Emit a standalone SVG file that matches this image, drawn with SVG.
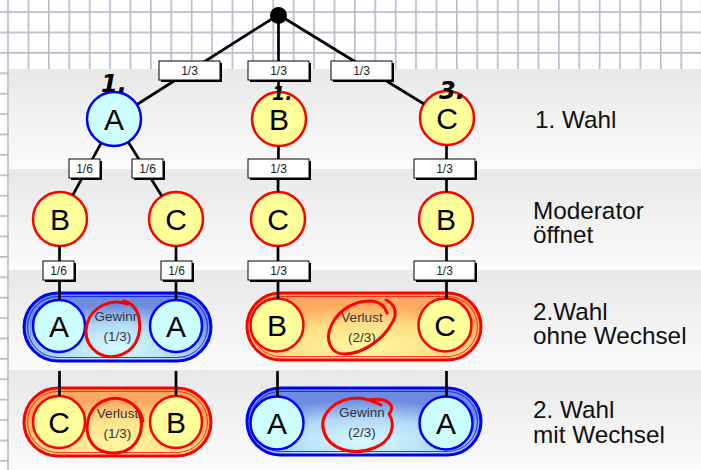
<svg xmlns="http://www.w3.org/2000/svg" width="701" height="470" viewBox="0 0 701 470">
  <defs>
    <pattern id="grid" patternUnits="userSpaceOnUse" x="7.2" y="11.2" width="20.4" height="20.4">
      <path d="M0.8 0 V20.4 M0 0.8 H20.4" stroke="#b9b9c8" stroke-width="1.7" fill="none"/>
    </pattern>
    <linearGradient id="band" x1="0" y1="0" x2="0" y2="1">
      <stop offset="0" stop-color="#e8e8e8"/>
      <stop offset="1" stop-color="#fbfbfb"/>
    </linearGradient>
    <radialGradient id="gBlue" cx="0.5" cy="0.8" r="0.62">
      <stop offset="0" stop-color="#d6faff"/>
      <stop offset="0.55" stop-color="#b2daf6"/>
      <stop offset="1" stop-color="#6c8ce0"/>
    </radialGradient>
    <radialGradient id="gOrange" cx="0.5" cy="0.8" r="0.62">
      <stop offset="0" stop-color="#fff8a0"/>
      <stop offset="0.55" stop-color="#ffe088"/>
      <stop offset="1" stop-color="#ffa862"/>
    </radialGradient>
  </defs>
  <style>
    .lbl { font-family: "Liberation Sans", Arial, sans-serif; font-size: 24.3px; fill: #111; }
    .node-letter { font-family: "Liberation Sans", Arial, sans-serif; font-size: 30px; fill: #000; text-anchor: middle; }
    .cyan { fill: #ccffff; stroke: #0000ff; stroke-width: 2.5; }
    .yellow { fill: #ffff99; stroke: #ff0000; stroke-width: 2.5; }
    .pill-blue { fill: url(#gBlue); stroke: #0000ff; stroke-width: 3; }
    .pill-orange { fill: url(#gOrange); stroke: #ff0000; stroke-width: 3; }
    .inner-blue { fill: none; stroke: #0000ff; stroke-width: 1; opacity: 0.75; }
    .inner-red { fill: none; stroke: #ff0000; stroke-width: 1; opacity: 0.75; }
    .result { font-family: "Liberation Sans", Arial, sans-serif; font-size: 13.5px; fill: #333; text-anchor: middle; }
    .edge { stroke: #000; stroke-width: 2.7; fill: none; }
    .box { fill: #fff; stroke: #000; stroke-width: 1; }
    .box-shadow { fill: #000; }
    .prob { font-family: "Liberation Sans", Arial, sans-serif; font-size: 12px; fill: #222; text-anchor: middle; }
    .loop { fill: none; stroke: #ff0000; stroke-width: 3; stroke-linecap: round; stroke-linejoin: round; }
    .hand { font-family: "DejaVu Sans", sans-serif; font-weight: bold; font-style: italic; fill: #000; }
  </style>

  <!-- squared paper -->
  <rect x="0" y="0" width="701" height="470" fill="#ffffff"/>
  <rect x="0" y="0" width="701" height="470" fill="url(#grid)"/>

  <!-- row bands -->
  <rect x="9" y="69" width="692" height="100" fill="url(#band)"/>
  <rect x="9" y="169" width="692" height="101" fill="url(#band)"/>
  <rect x="9" y="270" width="692" height="100" fill="url(#band)"/>
  <rect x="9" y="370" width="692" height="100" fill="url(#band)"/>

  <!-- row captions -->
  <text class="lbl" x="535" y="128">1. Wahl</text>
  <text class="lbl" x="533" y="219">Moderator</text>
  <text class="lbl" x="533" y="243">öffnet</text>
  <text class="lbl" x="533" y="320">2.Wahl</text>
  <text class="lbl" x="533" y="344">ohne Wechsel</text>
  <text class="lbl" x="533" y="418">2. Wahl</text>
  <text class="lbl" x="533" y="443">mit Wechsel</text>

  <!-- start point -->
  <g id="root">
    <circle cx="278.5" cy="15.5" r="8.5" fill="#000"/>
  </g>

  <!-- first choice -->
  <g id="choice-A">
    <circle class="cyan" cx="114" cy="119" r="27"/>
    <text class="node-letter" x="114" y="130">A</text>
  </g>
  <g id="choice-B">
    <circle class="yellow" cx="279" cy="119" r="27"/>
    <text class="node-letter" x="279" y="130">B</text>
  </g>
  <g id="choice-C">
    <circle class="yellow" cx="447" cy="118" r="27"/>
    <text class="node-letter" x="447" y="129">C</text>
  </g>

  <!-- door opened by the moderator -->
  <g id="open-B-after-A">
    <circle class="yellow" cx="60" cy="219" r="27"/>
    <text class="node-letter" x="60" y="230">B</text>
  </g>
  <g id="open-C-after-A">
    <circle class="yellow" cx="176" cy="219" r="27"/>
    <text class="node-letter" x="176" y="230">C</text>
  </g>
  <g id="open-C-after-B">
    <circle class="yellow" cx="278" cy="219" r="27"/>
    <text class="node-letter" x="278" y="230">C</text>
  </g>
  <g id="open-B-after-C">
    <circle class="yellow" cx="446" cy="219" r="27"/>
    <text class="node-letter" x="446" y="230">B</text>
  </g>

  <!-- second choice, staying -->
  <g id="stay-win">
    <rect class="pill-blue" x="24" y="293" width="187" height="68" rx="34"/>
    <rect class="inner-blue" x="27.5" y="296.5" width="180" height="61" rx="30.5"/>
    <text class="result" x="117.5" y="321">Gewinn</text>
    <text class="result" x="117.5" y="341">(1/3)</text>
    <circle class="cyan" cx="59" cy="326" r="26"/>
    <text class="node-letter" x="59" y="337">A</text>
    <circle class="cyan" cx="176" cy="326" r="26"/>
    <text class="node-letter" x="176" y="337">A</text>
  </g>
  <g id="stay-lose">
    <rect class="pill-orange" x="247" y="293" width="234" height="67" rx="33.5"/>
    <rect class="inner-red" x="250.5" y="296.5" width="227" height="60" rx="30"/>
    <text class="result" x="362" y="322">Verlust</text>
    <text class="result" x="362" y="342">(2/3)</text>
    <circle class="yellow" cx="277" cy="325" r="26.5"/>
    <text class="node-letter" x="277" y="336">B</text>
    <circle class="yellow" cx="445" cy="325" r="26.5"/>
    <text class="node-letter" x="445" y="336">C</text>
  </g>

  <!-- second choice, switching -->
  <g id="switch-lose">
    <rect class="pill-orange" x="24" y="388" width="187" height="68" rx="34"/>
    <rect class="inner-red" x="27.5" y="391.5" width="180" height="61" rx="30.5"/>
    <text class="result" x="117.5" y="418">Verlust</text>
    <text class="result" x="117.5" y="438">(1/3)</text>
    <circle class="yellow" cx="59" cy="422" r="26"/>
    <text class="node-letter" x="59" y="433">C</text>
    <circle class="yellow" cx="176" cy="422" r="26"/>
    <text class="node-letter" x="176" y="433">B</text>
  </g>
  <g id="switch-win">
    <rect class="pill-blue" x="247" y="388" width="234" height="67" rx="33.5"/>
    <rect class="inner-blue" x="250.5" y="391.5" width="227" height="60" rx="30"/>
    <text class="result" x="362" y="417">Gewinn</text>
    <text class="result" x="362" y="437">(2/3)</text>
    <circle class="cyan" cx="277" cy="423" r="26.5"/>
    <text class="node-letter" x="277" y="434">A</text>
    <circle class="cyan" cx="446" cy="423" r="26.5"/>
    <text class="node-letter" x="446" y="434">A</text>
  </g>

  <!-- branches with their probabilities -->
  <g id="connectors">
    <line class="edge" x1="278" y1="15" x2="137" y2="104.5"/>
    <line class="edge" x1="278.5" y1="15" x2="278.5" y2="92"/>
    <line class="edge" x1="279" y1="15" x2="424" y2="104"/>

    <line class="edge" x1="101.2" y1="142.8" x2="72.8" y2="195.2"/>
    <line class="edge" x1="128.2" y1="142" x2="161.8" y2="196"/>
    <line class="edge" x1="278.5" y1="146" x2="278" y2="192"/>
    <line class="edge" x1="446.5" y1="145" x2="446.5" y2="192"/>

    <line class="edge" x1="59.5" y1="246" x2="59.5" y2="300"/>
    <line class="edge" x1="176" y1="246" x2="176" y2="300"/>
    <line class="edge" x1="278" y1="246" x2="278" y2="299"/>
    <line class="edge" x1="446.5" y1="246" x2="446.5" y2="299"/>

    <line class="edge" x1="59.5" y1="371" x2="59.5" y2="396"/>
    <line class="edge" x1="176" y1="371" x2="176" y2="396" stroke-width="3.4"/>
    <line class="edge" x1="277.5" y1="371" x2="277.5" y2="396.5"/>
    <line class="edge" x1="446.5" y1="371" x2="446.5" y2="396.5"/>

    <!-- probability tags -->
    <rect class="box-shadow" x="161" y="63" width="61" height="19"/>
    <rect class="box" x="159" y="61" width="61" height="19"/>
    <text class="prob" x="189.5" y="75">1/3</text>
    <rect class="box-shadow" x="250" y="63" width="61" height="19"/>
    <rect class="box" x="248" y="61" width="61" height="19"/>
    <text class="prob" x="278.5" y="75">1/3</text>
    <rect class="box-shadow" x="333" y="63" width="61" height="19"/>
    <rect class="box" x="331" y="61" width="61" height="19"/>
    <text class="prob" x="361.5" y="75">1/3</text>

    <rect class="box-shadow" x="71" y="161" width="31" height="19"/>
    <rect class="box" x="69" y="159" width="31" height="19"/>
    <text class="prob" x="84.5" y="173">1/6</text>
    <rect class="box-shadow" x="134" y="161" width="31" height="19"/>
    <rect class="box" x="132" y="159" width="31" height="19"/>
    <text class="prob" x="147.5" y="173">1/6</text>
    <rect class="box-shadow" x="250" y="161" width="61" height="19"/>
    <rect class="box" x="248" y="159" width="61" height="19"/>
    <text class="prob" x="278.5" y="173">1/3</text>
    <rect class="box-shadow" x="416" y="161" width="61" height="19"/>
    <rect class="box" x="414" y="159" width="61" height="19"/>
    <text class="prob" x="444.5" y="173">1/3</text>

    <rect class="box-shadow" x="45" y="263" width="31" height="19"/>
    <rect class="box" x="43" y="261" width="31" height="19"/>
    <text class="prob" x="58.5" y="275">1/6</text>
    <rect class="box-shadow" x="163" y="263" width="31" height="19"/>
    <rect class="box" x="161" y="261" width="31" height="19"/>
    <text class="prob" x="176.5" y="275">1/6</text>
    <rect class="box-shadow" x="250" y="263" width="61" height="19"/>
    <rect class="box" x="248" y="261" width="61" height="19"/>
    <text class="prob" x="278.5" y="275">1/3</text>
    <rect class="box-shadow" x="416" y="263" width="61" height="19"/>
    <rect class="box" x="414" y="261" width="61" height="19"/>
    <text class="prob" x="444.5" y="275">1/3</text>
  </g>

  <!-- hand-written marks -->
  <g id="marks">
    <text class="hand" x="101" y="92" font-size="24">1.</text>
    <text class="hand" x="272" y="100" font-size="19">1.</text>
    <text class="hand" x="439" y="99" font-size="24">3.</text>
    <path class="loop" d="M127,304 C112,298 92,306 87,324 C82,344 98,360 117,356 C135,352 142,336 139,318 C137,308 131,303 124,301"/>
    <path class="loop" d="M386,300 C395,304 398,313 392,323 C383,340 362,354 345,354 C330,354 325,340 331,326 C338,310 355,300 372,301 C380,302 385,306 387,313"/>
    <path class="loop" d="M139,413 C146,430 137,452 115,453 C94,454 84,438 88,420 C92,402 110,395 125,400 C135,404 141,412 143,421"/>
    <path class="loop" d="M370,400 C386,397 397,405 389,414 C396,425 392,441 374,448 C354,456 330,450 324,432 C318,414 336,398 358,398 C366,398 373,401 381,405"/>
  </g>
</svg>
